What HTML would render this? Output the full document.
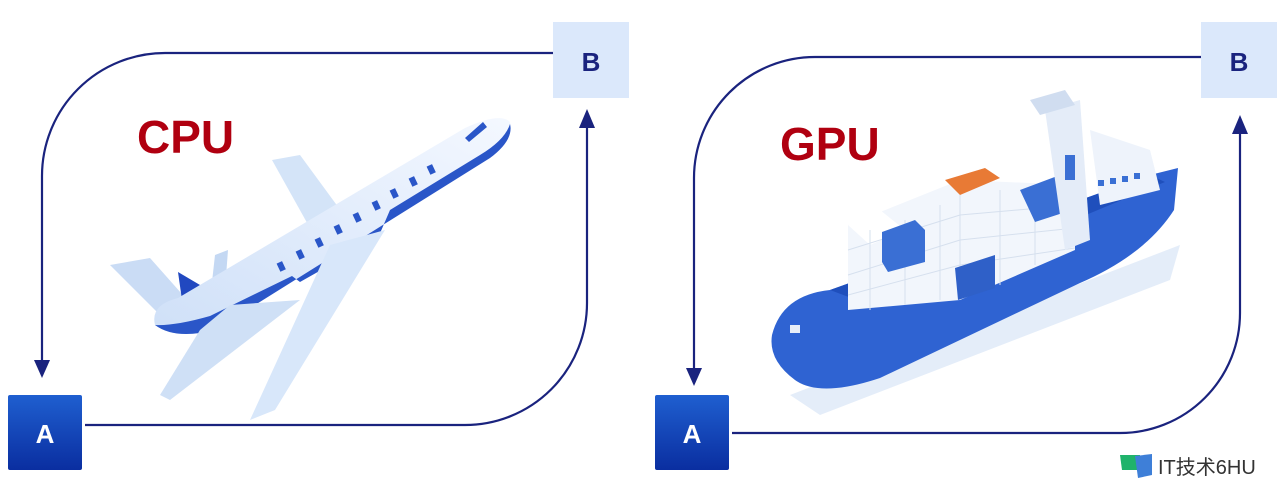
<!DOCTYPE html>
<html><head><meta charset="utf-8"><style>
body{margin:0;width:1280px;height:486px;background:#fff;overflow:hidden;font-family:"Liberation Sans","Noto Sans CJK SC",sans-serif}
</style></head><body>
<svg width="1280" height="486" viewBox="0 0 1280 486" xmlns="http://www.w3.org/2000/svg">
<defs>
<linearGradient id="ga" x1="0" y1="0" x2="0" y2="1"><stop offset="0" stop-color="#1f5fd0"/><stop offset="1" stop-color="#0a2ea0"/></linearGradient>
<linearGradient id="pl" x1="0" y1="1" x2="1" y2="0"><stop offset="0" stop-color="#cfe0f8"/><stop offset="1" stop-color="#f4f8ff"/></linearGradient>
</defs>
<g fill="none" stroke="#1a237e" stroke-width="2.2">
<path d="M553 53 H165 A123 123 0 0 0 42 176 V362"/>
<path d="M85 425 H465 A122 122 0 0 0 587 303 V126"/>
<path d="M1201 57 H815 A121 121 0 0 0 694 178 V368"/>
<path d="M732 433 H1120 A120 120 0 0 0 1240 313 V133"/>
</g>
<g fill="#1a237e">
<path d="M34 360 L50 360 L42 378Z"/>
<path d="M579 128 L595 128 L587 109Z"/>
<path d="M686 368 L702 368 L694 386Z"/>
<path d="M1232 134 L1248 134 L1240 115Z"/>
</g>
<rect x="553" y="22" width="76" height="76" fill="#dbe8fb"/>
<text x="591" y="71" font-size="26" font-weight="bold" fill="#1a237e" text-anchor="middle">B</text>
<rect x="1201" y="22" width="76" height="76" fill="#dbe8fb"/>
<text x="1239" y="71" font-size="26" font-weight="bold" fill="#1a237e" text-anchor="middle">B</text>
<rect x="8" y="395" width="74" height="75" rx="2" fill="url(#ga)"/>
<text x="45" y="443" font-size="26" font-weight="bold" fill="#fff" text-anchor="middle">A</text>
<rect x="655" y="395" width="74" height="75" rx="2" fill="url(#ga)"/>
<text x="692" y="443" font-size="26" font-weight="bold" fill="#fff" text-anchor="middle">A</text>
<text x="137" y="153" font-size="46" font-weight="bold" fill="#b00010">CPU</text>
<text x="780" y="160" font-size="46" font-weight="bold" fill="#b00010">GPU</text>
<!-- plane -->
<g>
<path d="M272 160 L300 155 L355 230 L325 255Z" fill="#d4e4f8"/>
<path d="M110 265 L150 258 L205 320 L175 330Z" fill="#cadcf5"/>
<path d="M215 255 L228 250 L225 290 L210 300Z" fill="#c4d8f3"/>
<path d="M178 272 L200 285 L182 300Z" fill="#2148c0"/>
<path d="M155 325 Q150 305 178 298 L465 128 Q500 112 510 122 Q515 138 490 158 L215 330 Q175 340 155 325Z" fill="url(#pl)"/>
<path d="M155 325 Q175 340 215 330 L490 158 Q514 140 510 124 Q505 140 480 155 L390 210 L378 238 L300 282 L292 276 L210 316 Q175 326 155 325Z" fill="#2a56c8"/>
<path d="M330 245 L385 230 L275 410 L250 420Z" fill="#d8e7fa"/>
<path d="M200 330 L230 305 L300 300 L170 400 L160 395Z" fill="#cfe0f6"/>
<g fill="#2a56c8">
<rect x="278" y="262" width="6" height="9" transform="rotate(-25 281 266)"/>
<rect x="297" y="250" width="6" height="9" transform="rotate(-25 300 254)"/>
<rect x="316" y="238" width="6" height="9" transform="rotate(-25 319 242)"/>
<rect x="335" y="225" width="6" height="9" transform="rotate(-25 338 229)"/>
<rect x="354" y="213" width="6" height="9" transform="rotate(-25 357 217)"/>
<rect x="373" y="201" width="6" height="9" transform="rotate(-25 376 205)"/>
<rect x="391" y="189" width="6" height="9" transform="rotate(-25 394 193)"/>
<rect x="410" y="177" width="6" height="9" transform="rotate(-25 413 181)"/>
<rect x="428" y="165" width="6" height="9" transform="rotate(-25 431 169)"/>
<path d="M465 138 L483 122 L487 127 L469 142Z"/>
</g>
</g>
<!-- ship -->
<g>
<path d="M790 395 L1180 245 L1170 280 L820 415Z" fill="#e4edf9"/>
<path d="M772 335 Q782 295 830 290 L1150 175 L1178 168 L1174 210 Q1145 255 1080 283 L880 378 Q820 398 795 380 Q768 360 772 335Z" fill="#2f63d2"/>
<path d="M830 290 L1150 175 L1165 182 L870 305Z" fill="#1f4fbc"/>
<rect x="790" y="325" width="10" height="8" fill="#e8eef8"/>
<path d="M848 225 L960 180 L1075 185 L1075 250 L960 300 L848 310Z" fill="#f2f6fc"/>
<path d="M848 225 L880 210 L905 230 L870 245Z" fill="#fff"/>
<g stroke="#d6e0ee" stroke-width="1" fill="none">
<path d="M848 250 L960 215 L1075 205 M848 275 L960 240 L1075 228 M848 295 L960 265 L1075 248"/>
<path d="M870 230 V310 M905 220 V305 M940 205 V300 M960 195 V300 M1000 190 V285 M1035 185 V265"/>
</g>
<path d="M882 232 L915 220 L925 230 L925 262 L888 272 L882 262Z" fill="#3a6fd4"/>
<path d="M955 268 L995 255 L995 288 L958 300Z" fill="#2f60c8"/>
<path d="M1020 190 L1060 175 L1072 185 L1072 210 L1035 222Z" fill="#3a6fd4"/>
<path d="M945 180 L985 168 L1000 178 L960 195Z" fill="#e87a35"/>
<path d="M1045 110 L1080 100 L1090 240 L1065 250Z" fill="#e4ecf8"/>
<path d="M1030 100 L1065 90 L1075 105 L1040 115Z" fill="#d0ddf0"/>
<path d="M1090 130 L1150 150 L1160 190 L1100 205Z" fill="#eef3fb"/>
<rect x="1065" y="155" width="10" height="25" fill="#3a6fd4"/>
<g fill="#3a6fd4"><rect x="1098" y="180" width="6" height="6"/><rect x="1110" y="178" width="6" height="6"/><rect x="1122" y="176" width="6" height="6"/><rect x="1134" y="173" width="6" height="6"/></g>
</g>
<path d="M1120 455 L1140 455 L1138 470 L1122 470Z" fill="#1fb36b"/>
<path d="M1135 456 L1152 454 L1152 475 L1138 478Z" fill="#3e7fd8"/>
<text x="1158" y="474" font-size="20" fill="#333" font-family="Liberation Sans,'Noto Sans CJK SC',sans-serif">IT技术6HU</text>
</svg>
</body></html>
